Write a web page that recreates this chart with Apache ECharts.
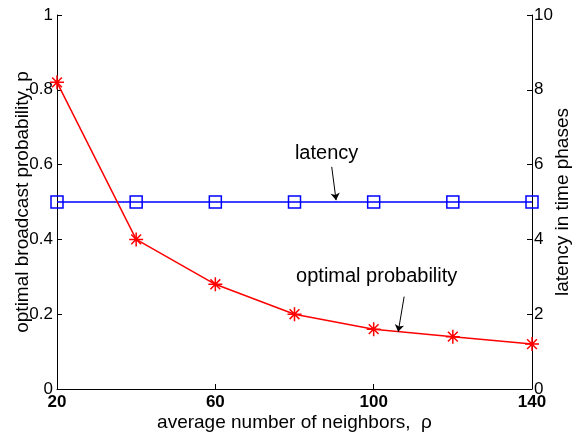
<!DOCTYPE html>
<html>
<head>
<meta charset="utf-8">
<script src="https://cdn.jsdelivr.net/npm/echarts@6/dist/echarts.min.js"></script>
<style>
  html, body { margin: 0; padding: 0; background: #fff; }
  #chart { width: 576px; height: 436px; }
</style>
</head>
<body>
<div id="chart"></div>
<script>
// average number of neighbours
const neighbors = [20, 40, 60, 80, 100, 120, 140];
// optimal broadcast probability p (left axis)
const optimalProb = [0.82, 0.40, 0.28, 0.20, 0.16, 0.14, 0.12];
// latency in time phases (right axis)
const latency = [5, 5, 5, 5, 5, 5, 5];
// labelled ticks on the x axis
const xTicks = [20, 60, 100, 140];

const FONT = '"Liberation Sans", Arial, Helvetica, sans-serif';
const asterisk = 'path://M0,-10L0,10M-10,0L10,0M-7,-7L7,7M-7,7L7,-7';

const chart = echarts.init(document.getElementById('chart'));

const axisLine = { show: true, lineStyle: { color: '#000', width: 1 } };
const tickStyle = { show: true, inside: true, length: 5, lineStyle: { color: '#000', width: 1 } };
const nameStyle = { color: '#000', fontSize: 19, fontFamily: FONT };
const arrowLine = {
  silent: true,
  symbol: ['none', 'arrow'], symbolSize: 7,
  label: { show: false },
  itemStyle: { color: '#000', borderColor: '#000', borderWidth: 0 },
  lineStyle: { color: '#000', width: 1, type: 'solid' }
};

chart.setOption({
  animation: false,
  backgroundColor: '#fff',
  textStyle: { fontFamily: FONT },
  grid: { left: 57, right: 44, top: 15, bottom: 47, outerBoundsMode: 'none', containLabel: false },
  xAxis: {
    type: 'value',
    min: 20, max: 140, interval: 20,
    axisLine: axisLine,
    axisTick: Object.assign({}, tickStyle, { customValues: xTicks }),
    axisLabel: { customValues: xTicks, color: '#000', fontSize: 17, fontWeight: 'bold', fontFamily: FONT, margin: 5 },
    splitLine: { show: false },
    name: 'average number of neighbors,  \u03C1',
    nameLocation: 'middle', nameGap: 24, nameMoveOverlap: false,
    nameTextStyle: nameStyle
  },
  yAxis: [{
    type: 'value',
    min: 0, max: 1, interval: 0.2,
    position: 'left',
    axisLine: axisLine,
    axisTick: tickStyle,
    axisLabel: { color: '#000', fontSize: 17, fontFamily: FONT, margin: 4 },
    splitLine: { show: false },
    name: 'optimal broadcast probability, p',
    nameLocation: 'middle', nameGap: 25, nameRotate: 90, nameMoveOverlap: false,
    nameTextStyle: nameStyle
  }, {
    type: 'value',
    min: 0, max: 10, interval: 2,
    position: 'right',
    axisLine: axisLine,
    axisTick: tickStyle,
    axisLabel: { color: '#000', fontSize: 17, fontFamily: FONT, margin: 2 },
    splitLine: { show: false },
    name: 'latency in time phases',
    nameLocation: 'middle', nameGap: 21, nameRotate: 90, nameMoveOverlap: false,
    nameTextStyle: nameStyle
  }],
  series: [{
    name: 'latency',
    type: 'line',
    yAxisIndex: 1,
    data: neighbors.map((x, i) => [x, latency[i]]),
    lineStyle: { color: '#0000ff', width: 1.5 },
    symbol: 'rect', symbolSize: 12,
    itemStyle: { color: 'rgba(0,0,0,0)', borderColor: '#0000ff', borderWidth: 1.5 },
    z: 2,
    markLine: Object.assign({}, arrowLine, {
      data: [[{ coord: [89.4, 5.94] }, { coord: [90.5, 5.05] }]]
    })
  }, {
    name: 'optimal probability',
    type: 'line',
    yAxisIndex: 0,
    data: neighbors.map((x, i) => [x, optimalProb[i]]),
    lineStyle: { color: '#ff0000', width: 1.5 },
    symbol: asterisk, symbolSize: 14, symbolKeepAspect: true,
    itemStyle: { color: 'rgba(0,0,0,0)', borderColor: '#ff0000', borderWidth: 1.5 },
    z: 3,
    markLine: Object.assign({}, arrowLine, {
      data: [[{ coord: [107.7, 0.247] }, { coord: [106.2, 0.153] }]]
    })
  }]
});

// text callouts placed in data space
function placeText() {
  const a = chart.convertToPixel({ xAxisIndex: 0, yAxisIndex: 0 }, [80.1, 0.631]);
  const b = chart.convertToPixel({ xAxisIndex: 0, yAxisIndex: 0 }, [80.4, 0.302]);
  chart.setOption({
    graphic: [{
      type: 'text', x: a[0], y: a[1],
      style: { text: 'latency', fill: '#000', font: '20px ' + FONT, textAlign: 'left', textVerticalAlign: 'middle' }
    }, {
      type: 'text', x: b[0], y: b[1],
      style: { text: 'optimal probability', fill: '#000', font: '20px ' + FONT, textAlign: 'left', textVerticalAlign: 'middle' }
    }]
  });
}
placeText();
</script>
</body>
</html>
